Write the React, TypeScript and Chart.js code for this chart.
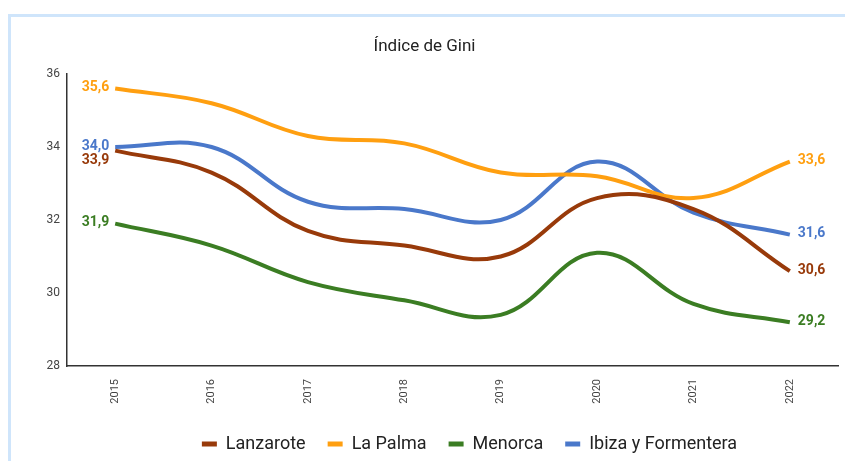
import React, { useEffect, useRef } from "react";
import { Chart, registerables } from "chart.js";

Chart.register(...registerables);

const years = ["2015", "2016", "2017", "2018", "2019", "2020", "2021", "2022"];
const lanzarote = [33.9, 33.3, 31.7, 31.3, 31.0, 32.6, 32.3, 30.6];
const laPalma = [35.6, 35.2, 34.3, 34.1, 33.3, 33.2, 32.6, 33.6];
const menorca = [31.9, 31.3, 30.3, 29.8, 29.4, 31.1, 29.7, 29.2];
const ibiza = [34.0, 34.0, 32.5, 32.3, 32.0, 33.6, 32.2, 31.6];
const seriesNames = ["Lanzarote", "La Palma", "Menorca", "Ibiza y Formentera"];
const seriesColors = ["#983A0A", "#FF9F10", "#3B7D23", "#4A78CA"];
const yTicks = { min: 28, max: 36, step: 2 };

const FONT = "Roboto, 'Noto Sans', sans-serif";

const endLabels = {
  id: "endLabels",
  afterDatasetsDraw(chart: any) {
    const ctx = chart.ctx;
    ctx.save();
    ctx.font = `bold 14px ${FONT}`;
    ctx.textBaseline = "middle";
    const sides: Array<{ idx: number; align: CanvasTextAlign; dx: number }> = [
      { idx: 0, align: "right", dx: -6 },
      { idx: years.length - 1, align: "left", dx: 8 },
    ];
    for (const side of sides) {
      const items: any[] = [];
      chart.data.datasets.forEach((ds: any, di: number) => {
        const meta = chart.getDatasetMeta(di);
        const pt = meta.data[side.idx];
        if (!pt) return;
        items.push({
          x: pt.x,
          y: pt.y - 1,
          text: Number(ds.data[side.idx]).toFixed(1).replace(".", ","),
          color: ds.borderColor,
        });
      });
      items.sort((a, b) => a.y - b.y);
      for (let i = 1; i < items.length; i++) {
        if (items[i].y < items[i - 1].y + 14) items[i].y = items[i - 1].y + 14;
      }
      ctx.textAlign = side.align;
      for (const it of items) {
        ctx.fillStyle = it.color;
        ctx.fillText(it.text, it.x + side.dx, it.y);
      }
    }
    ctx.restore();
  },
};

const legendShift = {
  id: "legendShift",
  afterLayout(chart: any) {
    const lg = chart.legend;
    if (!lg) return;
    lg.left += 45;
    lg.right += 45;
    lg.top += 2;
    lg.bottom += 2;
  },
};

export default function App() {
  const ref = useRef<HTMLCanvasElement | null>(null);
  useEffect(() => {
    if (!ref.current) return;
    const allData = [lanzarote, laPalma, menorca, ibiza];
    const chart = new Chart(ref.current, {
      type: "line",
      data: {
        labels: years,
        datasets: allData.map((d, i) => ({
          label: seriesNames[i],
          data: d,
          borderColor: seriesColors[i],
          backgroundColor: seriesColors[i],
          borderWidth: 4,
          pointRadius: 0,
          pointHoverRadius: 0,
          tension: 0.4,
          fill: false,
        })),
      },
      options: {
        animation: false,
        responsive: false,
        maintainAspectRatio: false,
        layout: { padding: { top: 0, right: 7, bottom: 0, left: 0 } },
        plugins: {
          title: {
            display: true,
            text: "Índice de Gini",
            color: "#222",
            font: { family: FONT, size: 17, weight: "normal" },
            padding: { top: 20, bottom: 16.6 },
          },
          legend: {
            position: "bottom",
            labels: {
              color: "#222",
              font: { family: FONT, size: 18 },
              boxWidth: 15,
              boxHeight: 5,
              padding: 22,
              generateLabels: (ch: any) =>
                Chart.defaults.plugins.legend.labels
                  .generateLabels(ch)
                  .map((it: any) => ({ ...it, lineWidth: 0, strokeStyle: "transparent" })),
            },
          },
          tooltip: { enabled: false },
        },
        scales: {
          x: {
            offset: true,
            grid: { display: false, drawTicks: false },
            border: { display: true, color: "#333", width: 1.5 },
            ticks: {
              color: "#444",
              font: { family: FONT, size: 11 },
              minRotation: 90,
              maxRotation: 90,
              padding: 13,
            },
            afterFit: (s: any) => {
              s.height = 45;
            },
          },
          y: {
            min: yTicks.min,
            max: yTicks.max,
            grid: { display: false, drawTicks: false },
            border: { display: true, color: "#333", width: 1.5 },
            ticks: {
              stepSize: yTicks.step,
              color: "#444",
              font: { family: FONT, size: 12 },
              padding: 7,
            },
            afterFit: (s: any) => {
              s.width = 56;
            },
          },
        },
      },
      plugins: [endLabels, legendShift],
    });
    return () => chart.destroy();
  }, []);

  return (
    <div
      style={{
        position: "absolute",
        left: 8,
        top: 14,
        borderTop: "3px solid #cfe5fb",
        borderLeft: "3px solid #cfe5fb",
        width: 834,
        height: 444,
        background: "#fff",
      }}
    >
      <canvas ref={ref} width={834} height={444} style={{ display: "block" }} />
    </div>
  );
}
